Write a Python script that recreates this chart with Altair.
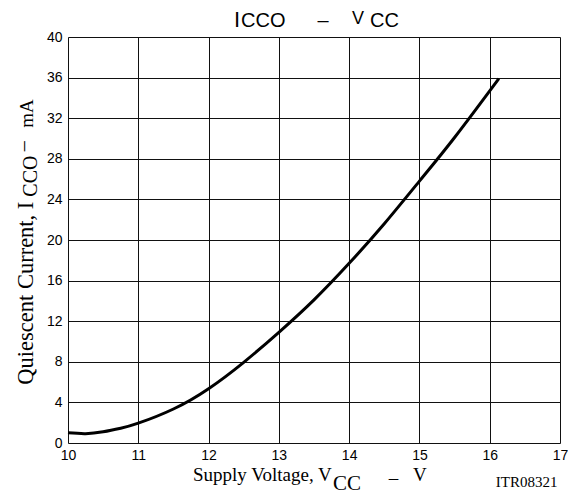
import altair as alt
import pandas as pd

# Curve (supply voltage V, quiescent current mA)
vcc = [10.0, 10.25, 10.5, 10.75, 11.0, 11.5, 12.0, 12.5, 13.0, 13.5, 14.0, 14.5, 15.0, 15.5, 16.13]
icco = [1.0, 0.92, 1.1, 1.45, 1.95, 3.35, 5.35, 7.95, 10.9, 14.1, 17.7, 21.6, 25.8, 30.1, 35.9]

x_ticks = [10, 11, 12, 13, 14, 15, 16, 17]
y_ticks = [0, 4, 8, 12, 16, 20, 24, 28, 32, 36, 40]

df = pd.DataFrame({"vcc": vcc, "icco": icco})

W, H = 492, 406
SANS = "Liberation Sans"
SERIF = "Liberation Serif"

x_enc = alt.X("vcc:Q", scale=alt.Scale(domain=[10, 17], nice=False),
              axis=alt.Axis(values=x_ticks, title=None, grid=True, tickSize=0,
                            labelPadding=5, labelFont=SANS, labelFontSize=14,
                            labelColor="black", gridColor="#111", gridWidth=1,
                            domain=False, labelFlush=False))
y_enc = alt.Y("icco:Q", scale=alt.Scale(domain=[0, 40], nice=False),
              axis=alt.Axis(values=y_ticks, title=None, grid=True, tickSize=0,
                            labelPadding=6, labelFont=SANS, labelFontSize=14,
                            labelColor="black", gridColor="#111", gridWidth=1,
                            domain=False, labelFlush=False))

curve = alt.Chart(df).mark_line(color="black", strokeWidth=3, interpolate="natural").encode(
    x=x_enc, y=y_enc)

one = alt.Data(values=[{"k": 1}])


def txt(s, x, y, size, font, angle=0, align="left", baseline="alphabetic"):
    kw = dict(text=s, fontSize=size, font=font, align=align, baseline=baseline, color="black")
    if angle:
        kw["angle"] = angle
    return alt.Chart(one).mark_text(**kw).encode(x=alt.value(x), y=alt.value(y))


texts = [
    # title  I_CCO - V_CC
    txt("I", 166, -9.8, 22, SANS),
    txt("CCO", 173, -9.8, 20, SANS),
    txt("–", 255, -10.5, 20, SANS, align="center"),
    txt("V", 284, -12.8, 18, SANS),
    txt("CC", 302, -9.8, 20, SANS),
    # x axis title
    txt("Supply Voltage, V", 125, 444.4, 19, SERIF),
    txt("CC", 265, 452.5, 21, SERIF),
    txt("–", 325.5, 446.5, 19, SERIF, align="center"),
    txt("V", 345, 444.4, 19, SERIF),
    # y axis title (rotated)
    txt("Quiescent Current, I", -35, 347.7, 22.5, SERIF, angle=270),
    txt("CCO", -31, 159.7, 20, SERIF, angle=270),
    txt("–", -38, 109.2, 20, SERIF, angle=270, align="center"),
    txt("mA", -35, 90.7, 19, SERIF, angle=270),
    # code
    txt("ITR08321", 458.7, 450, 15, SERIF, align="center"),
]

chart = alt.layer(curve, *texts).properties(
    width=W, height=H,
    autosize=alt.AutoSizeParams(type="none"),
    padding={"left": 60, "top": 29, "right": 8, "bottom": 52},
).configure_view(stroke="black", strokeWidth=2).configure(background="white")

chart.save("out.html", embed_options={"renderer": "svg", "actions": False})
